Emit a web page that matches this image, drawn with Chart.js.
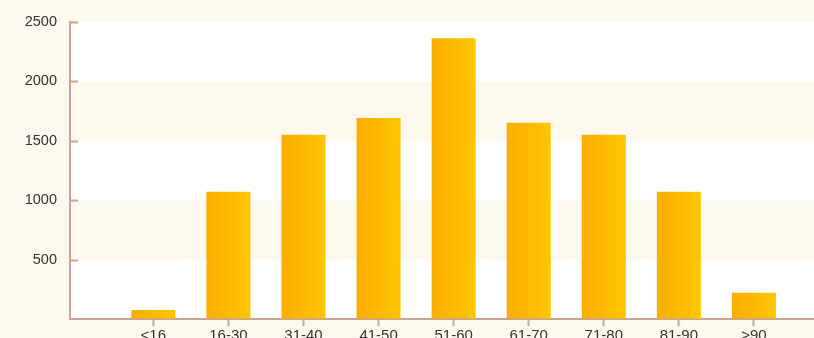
<!DOCTYPE html>
<html>
<head>
<meta charset="utf-8">
<script src="https://cdn.jsdelivr.net/npm/chart.js@4.4.1/dist/chart.umd.min.js"></script>
<style>
  html, body { margin: 0; padding: 0; background: #fdf9ef; overflow: hidden; }
  #wrap { width: 814px; height: 350px; }
</style>
</head>
<body>
<div id="wrap"><canvas id="ages" width="814" height="350"></canvas></div>
<script>
  // age groups and counts
  const categories = ["<16", "16-30", "31-40", "41-50", "51-60", "61-70", "71-80", "81-90", ">90"];
  const counts = [75, 1070, 1550, 1690, 2360, 1650, 1550, 1070, 220];
  const yTicks = [0, 500, 1000, 1500, 2000, 2500];

  const axisColor = "#c9a393";
  const cream = "#fdf9ef";

  // cream page + alternating white/cream bands behind the bars
  const bandsPlugin = {
    id: "bands",
    beforeDraw(chart) {
      const { ctx, chartArea, scales } = chart;
      ctx.save();
      ctx.fillStyle = cream;
      ctx.fillRect(0, 0, chart.width, chart.height);
      for (let i = 0; i < yTicks.length - 1; i++) {
        const top = scales.y.getPixelForValue(yTicks[i + 1]);
        const bottom = scales.y.getPixelForValue(yTicks[i]);
        ctx.fillStyle = i % 2 === 0 ? "#ffffff" : cream;
        ctx.fillRect(chartArea.left, top, chartArea.right - chartArea.left, bottom - top);
      }
      ctx.restore();
    },
    // short inward tick marks on the y axis
    afterDraw(chart) {
      const { ctx, chartArea, scales } = chart;
      ctx.save();
      ctx.strokeStyle = axisColor;
      ctx.lineWidth = 2;
      yTicks.slice(1).forEach((v) => {
        const y = Math.round(scales.y.getPixelForValue(v)) + 0.5;
        ctx.beginPath();
        ctx.moveTo(chartArea.left, y);
        ctx.lineTo(chartArea.left + 8, y);
        ctx.stroke();
      });
      ctx.restore();
    },
  };

  const barPct = 0.586;

  const barGradient = (context) => {
    const chart = context.chart;
    if (!chart.chartArea) return "#fbb800";
    const xs = chart.scales.x;
    const gap = xs.getPixelForValue(1) - xs.getPixelForValue(0);
    const cx = xs.getPixelForValue(context.dataIndex);
    const half = (gap * barPct) / 2;
    const g = chart.ctx.createLinearGradient(cx - half, 0, cx + half, 0);
    g.addColorStop(0, "#fbad00");
    g.addColorStop(1, "#fdc600");
    return g;
  };

  new Chart(document.getElementById("ages").getContext("2d"), {
    type: "bar",
    data: {
      datasets: [
        {
          data: counts.map((v, i) => ({ x: i, y: v })),
          backgroundColor: barGradient,
          borderWidth: 0,
          categoryPercentage: 1,
          barPercentage: barPct,
        },
      ],
    },
    options: {
      responsive: false,
      animation: false,
      layout: { padding: { top: 20, right: 0, left: 0, bottom: 0 } },
      plugins: { legend: { display: false }, tooltip: { enabled: false } },
      scales: {
        x: {
          type: "linear",
          min: -1.11,
          max: 8.8,
          offset: false,
          afterBuildTicks: (scale) => {
            scale.ticks = categories.map((c, i) => ({ value: i }));
          },
          afterFit: (scale) => {
            scale.height = 31;
          },
          grid: { offset: false, drawOnChartArea: false, drawTicks: true, tickLength: 7, color: axisColor, tickWidth: 2 },
          border: { color: axisColor, width: 2 },
          ticks: {
            padding: 1,
            color: "#333",
            font: { family: "Liberation Sans", size: 15 },
            maxRotation: 0,
            autoSkip: false,
            callback: (v) => categories[v],
          },
        },
        y: {
          min: 0,
          max: 2500,
          afterBuildTicks: (scale) => {
            scale.ticks = yTicks.map((v) => ({ value: v }));
          },
          afterFit: (scale) => {
            scale.width = 70;
          },
          grid: { drawOnChartArea: false, drawTicks: false },
          border: { color: axisColor, width: 2 },
          ticks: {
            padding: 13,
            color: "#333",
            font: { family: "Liberation Sans", size: 14.5 },
            callback: (v) => (v === 0 ? "" : v),
          },
        },
      },
    },
    plugins: [bandsPlugin],
  });
</script>
</body>
</html>
